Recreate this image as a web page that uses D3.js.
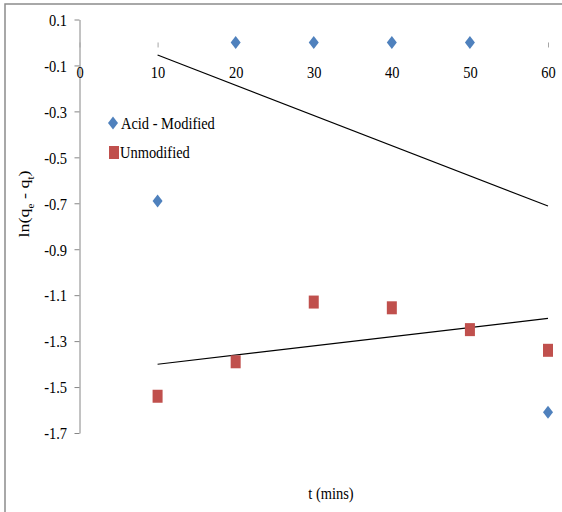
<!DOCTYPE html>
<html>
<head>
<meta charset="utf-8">
<script src="https://cdn.jsdelivr.net/npm/d3@7"></script>
<style>
  html, body { margin: 0; padding: 0; background: #fff; }
  svg { display: block; }
  text { font-family: "Liberation Serif", "Times New Roman", serif; fill: #000; }
</style>
</head>
<body>
<svg id="chart" width="562" height="512"></svg>
<script>
// ---- data ----
const times = [10, 20, 30, 40, 50, 60];
const acidModified = [-0.69, 0, 0, 0, 0, -1.61];
const unmodified = [-1.54, -1.39, -1.13, -1.155, -1.25, -1.34];
const xTicks = [0, 10, 20, 30, 40, 50, 60];
const yTicks = [0.1, -0.1, -0.3, -0.5, -0.7, -0.9, -1.1, -1.3, -1.5, -1.7];
const seriesNames = ["Acid - Modified", "Unmodified"];

const FONT = "'Liberation Serif', 'Times New Roman', serif";
const FS = "17px";
const svg = d3.select("#chart");
const SX = 0.85; // horizontal condensing of text

// frame
svg.append("rect").attr("x", 5).attr("y", 4).attr("width", 700).attr("height", 700)
  .attr("fill", "none").attr("stroke", "#8c8c8c").attr("stroke-width", 1.5);

const x = d3.scaleLinear().domain([0, 60]).range([79.5, 548]);
const y = d3.scaleLinear().domain([0.1, -1.7]).range([19.5, 433]);

// y axis
const gy = svg.append("g").attr("transform", `translate(${x(0)},0)`)
  .call(d3.axisLeft(y).tickValues(yTicks).tickSize(5).tickSizeOuter(0).tickFormat(d => d.toFixed(1)));
gy.attr("font-family", FONT);
gy.select(".domain").attr("stroke", "#868686");
gy.selectAll(".tick line").attr("stroke", "#868686");
gy.selectAll(".tick text")
  .attr("x", -12.5 / SX).attr("dy", "0.34em")
  .attr("transform", `scale(${SX},1)`)
  .style("font-family", FONT).style("font-size", FS);

// x axis (at y = 0)
const gx = svg.append("g").attr("transform", `translate(0,${y(0)})`)
  .call(d3.axisBottom(x).tickValues(xTicks).tickSize(5).tickSizeOuter(0).tickFormat(d3.format("d")));
gx.attr("font-family", FONT);
gx.select(".domain").attr("stroke", "none");
gx.selectAll(".tick line").attr("stroke", "#a6a6a6");
gx.selectAll(".tick text")
  .attr("y", 23).attr("dy", "0.71em").attr("x", 0)
  .attr("transform", `scale(${SX},1)`)
  .style("font-family", FONT).style("font-size", FS);

// trend lines (least-squares fit)
function fit(xs, ys) {
  const mx = d3.mean(xs), my = d3.mean(ys);
  let sxy = 0, sxx = 0;
  xs.forEach((v, i) => { sxy += (v - mx) * (ys[i] - my); sxx += (v - mx) * (v - mx); });
  const b = sxy / sxx, a = my - b * mx;
  return v => a + b * v;
}
[acidModified, unmodified].forEach(vals => {
  const f = fit(times, vals);
  const x0 = d3.min(times), x1 = d3.max(times);
  svg.append("line")
    .attr("x1", x(x0)).attr("y1", y(f(x0)))
    .attr("x2", x(x1)).attr("y2", y(f(x1)))
    .attr("stroke", "#000").attr("stroke-width", 1.1);
});

// markers
const blue = "#4F81BD", red = "#C0504D";
const diamond = (cx, cy) => `M${cx},${cy - 6.5}L${cx + 5},${cy}L${cx},${cy + 6.5}L${cx - 5},${cy}Z`;
svg.append("g").selectAll("path").data(times.map((t, i) => [t, acidModified[i]])).join("path")
  .attr("d", d => diamond(x(d[0]), y(d[1])))
  .attr("fill", blue);
svg.append("g").selectAll("rect").data(times.map((t, i) => [t, unmodified[i]])).join("rect")
  .attr("x", d => x(d[0]) - 5).attr("y", d => y(d[1]) - 6.5)
  .attr("width", 10).attr("height", 13)
  .attr("fill", red);

// legend
svg.append("path").attr("d", diamond(113, 123)).attr("fill", blue);
svg.append("rect").attr("x", 109).attr("y", 146).attr("width", 10).attr("height", 13).attr("fill", red);
svg.append("text").attr("transform", `translate(121,129) scale(${SX},1)`)
  .style("font-family", FONT).style("font-size", FS).text(seriesNames[0]);
svg.append("text").attr("transform", `translate(120,158) scale(${SX},1)`)
  .style("font-family", FONT).style("font-size", FS).text(seriesNames[1]);

// axis titles
svg.append("text").attr("transform", `translate(331,499) scale(${SX},1)`)
  .attr("text-anchor", "middle").style("font-family", FONT).style("font-size", FS).text("t (mins)");

const yl = svg.append("text")
  .attr("transform", `translate(29,204) rotate(-90) scale(1,${SX})`)
  .attr("text-anchor", "middle").style("font-family", FONT).style("font-size", "18px");
yl.append("tspan").text("ln(q");
yl.append("tspan").attr("baseline-shift", "sub").style("font-size", "11px").text("e");
yl.append("tspan").text(" - q");
yl.append("tspan").attr("baseline-shift", "sub").style("font-size", "11px").text("t");
yl.append("tspan").text(")");
</script>
</body>
</html>
